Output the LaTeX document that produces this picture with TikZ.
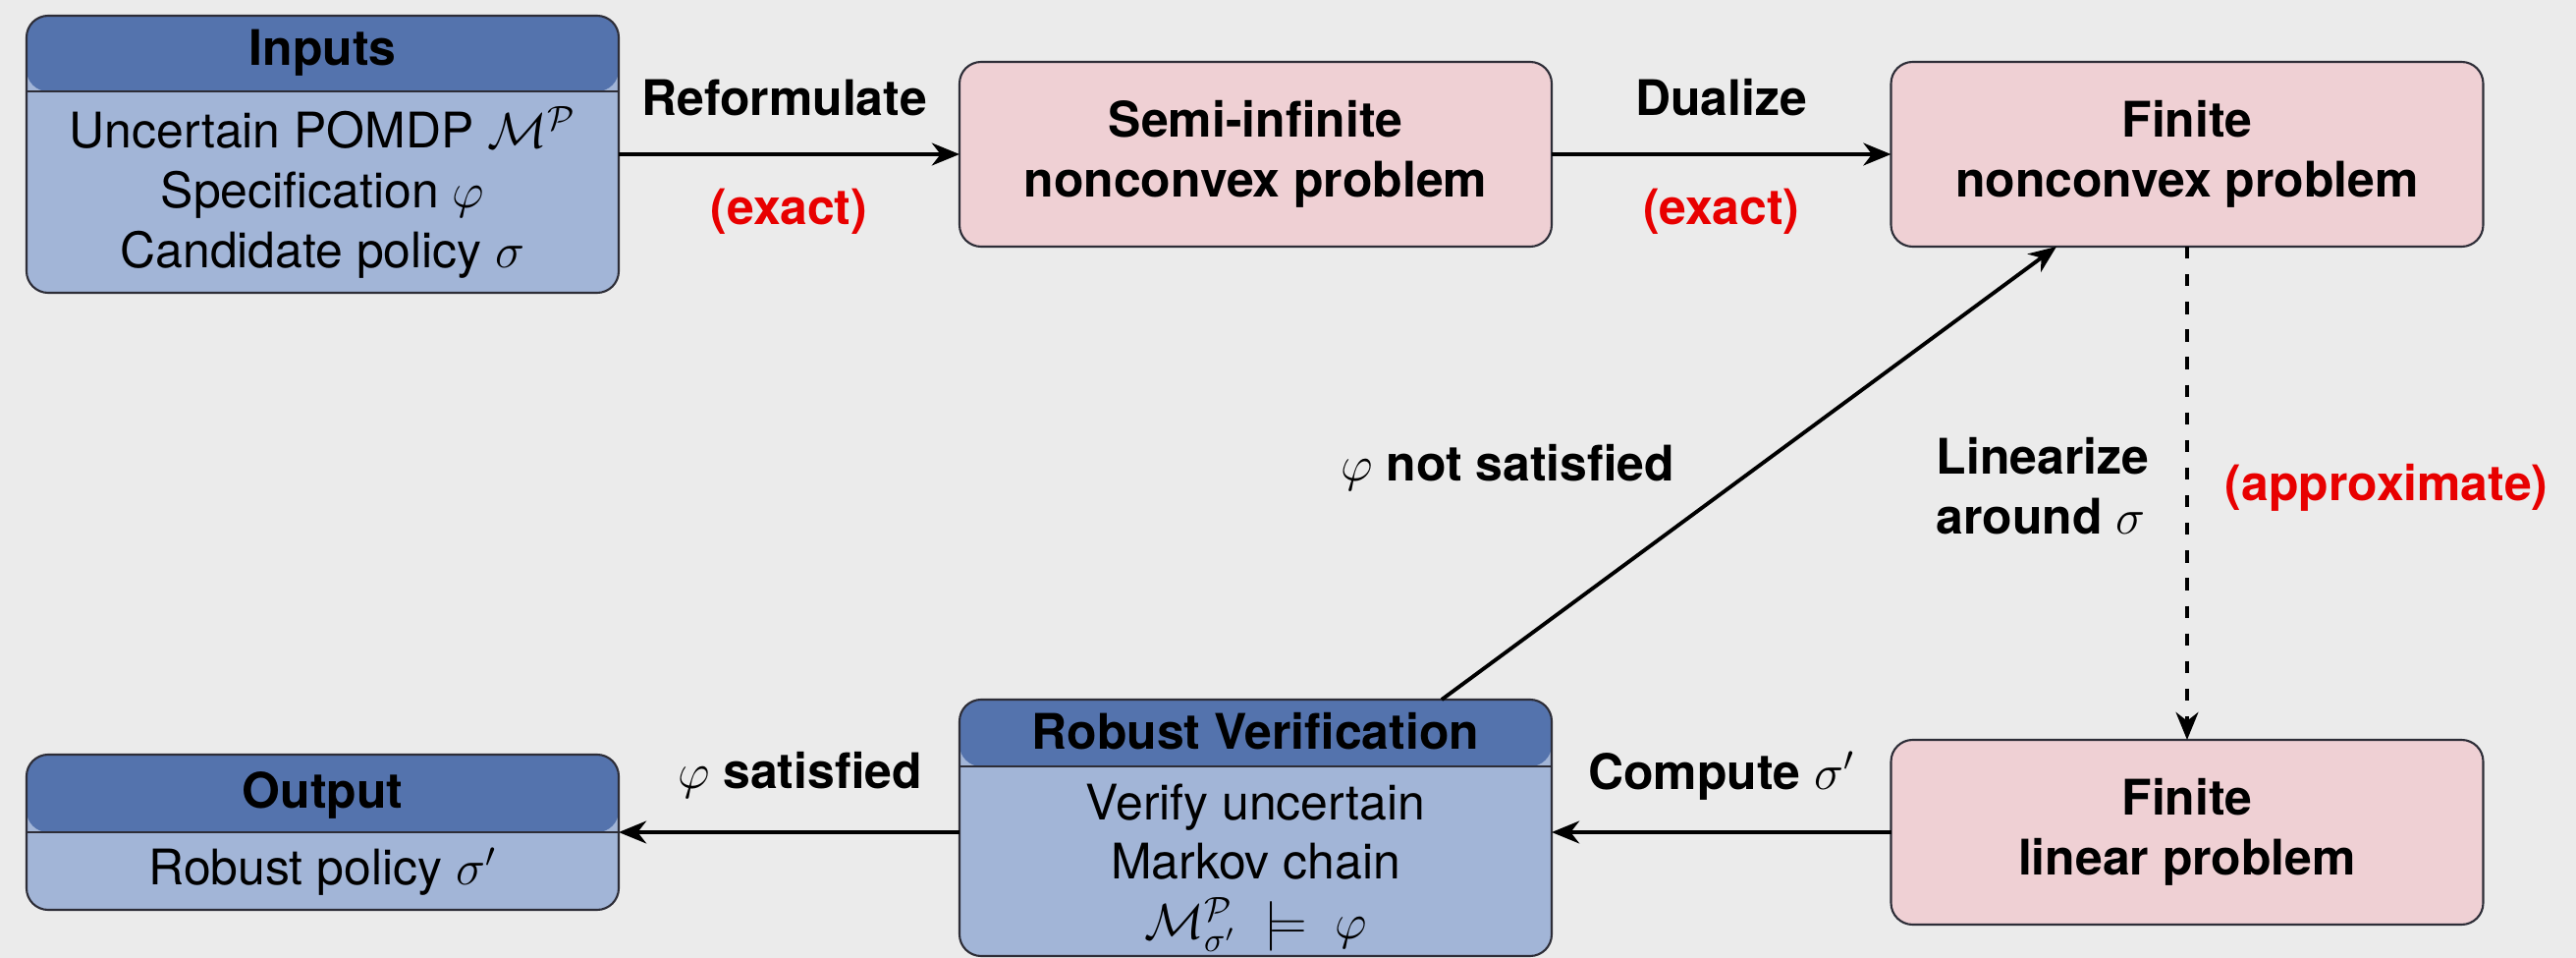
\documentclass[tikz,border=0pt]{standalone}
\usepackage{fontspec}
\setmainfont{TeX Gyre Heros}
\usetikzlibrary{arrows.meta,calc}

\definecolor{bg}{RGB}{235,235,235}
\definecolor{headblue}{RGB}{84,115,173}
\definecolor{bodyblue}{RGB}{162,181,215}
\definecolor{pinkfill}{RGB}{239,208,212}
\definecolor{edgecol}{RGB}{45,45,55}
\definecolor{note}{RGB}{232,0,0}

\begin{document}
\begin{tikzpicture}[x=0.1mm,y=-0.1mm,
  txt/.style={font=\fontsize{14.2}{17.3}\selectfont, inner sep=0pt},
  boldtxt/.style={font=\fontsize{14.2}{17.3}\selectfont\bfseries, inner sep=0pt},
  panel/.style={draw=edgecol, line width=0.6pt, rounded corners=2.2mm, fill=bodyblue,
    minimum width=60.3mm, inner sep=0pt, outer sep=0pt,
    path picture={
      \fill[headblue] (path picture bounding box.north west) rectangle ([yshift=-#1]path picture bounding box.north east);
      \draw[edgecol, line width=0.6pt] ([yshift=-#1]path picture bounding box.north west) -- ([yshift=-#1]path picture bounding box.north east);}},
  problem/.style={draw=edgecol, line width=0.6pt, rounded corners=2.2mm, fill=pinkfill,
    minimum width=60.3mm, minimum height=18.8mm, align=center, outer sep=0pt,
    boldtxt},
  flow/.style={line width=1.1pt, -{Stealth[length=8pt,width=6.5pt,inset=2.5pt]}},
  lbl/.style={boldtxt, anchor=base},
  remark/.style={boldtxt, text=note, anchor=base},
]
% canvas
\fill[bg] (0,0) rectangle (2623,975);
\useasboundingbox (0,0) rectangle (2623,975);

% input panel
\node[panel=7.7mm, minimum height=28.2mm] (inputs) at (328.5,157) {};
\node[boldtxt, anchor=base] (inputs-head) at (328.5,67) {Inputs};
\node[txt, align=center] (inputs-body) at (328.5,196)
  {Uncertain POMDP $\mathcal{M}^{\mathcal{P}}$\\ Specification $\varphi$\\ Candidate policy $\sigma$};

% optimisation problems
\node[problem] (semi) at (1278.5,157) {Semi-infinite\\ nonconvex problem};
\node[problem] (finnc) at (2227,157) {Finite\\ nonconvex problem};
\node[problem] (finlin) at (2227,847) {Finite\\ linear problem};

% verification panel
\node[panel=6.8mm, minimum height=26.1mm] (robust) at (1278.5,842.5) {};
\node[boldtxt, anchor=base] (robust-head) at (1278.5,762) {Robust Verification};
\node[txt, align=center] (robust-body) at (1278.5,883)
  {Verify uncertain\\ Markov chain\\ $\mathcal{M}^{\mathcal{P}}_{\sigma'}\ \models\ \varphi$};

% output panel
\node[panel=7.9mm, minimum height=15.8mm] (output) at (328.5,847) {};
\node[boldtxt, anchor=base] (output-head) at (328.5,822) {Output};
\node[txt] (output-body) at (328.5,887) {Robust policy $\sigma'$};

% connectors
\draw[flow] (inputs.east) --
  node[lbl, xshift=-0.5mm, yshift=3.9mm] (reform) {Reformulate}
  node[remark, yshift=-7.2mm] (exact1) {(exact)} (semi.west);
\draw[flow] (semi.east) --
  node[lbl, yshift=3.9mm] (dual) {Dualize}
  node[remark, yshift=-7.2mm] (exact2) {(exact)} (finnc.west);
\draw[flow, dash pattern=on 3.5pt off 4.5pt] (finnc.south) --
  node[pos=0.486, boldtxt, anchor=east, align=left, xshift=-3.7mm] (lin) {Linearize\\ around $\sigma$}
  node[pos=0.488, boldtxt, text=note, anchor=west, xshift=3.7mm] (approx) {(approximate)}
  (finlin.north);
\draw[flow] (finlin.west) --
  node[lbl, yshift=4.4mm] (comp) {Compute $\sigma'$} (finlin.west -| robust.east);
\draw[flow] (robust.west |- output.east) --
  node[lbl, xshift=1.1mm, yshift=4.5mm] (sat) {$\varphi$ satisfied} (output.east);
\draw[flow] ([xshift=18.95mm]robust.north) --
  node[pos=0.4816, boldtxt, anchor=base east, xshift=-6.25mm] (nsat) {$\varphi$ not satisfied}
  ([xshift=-13.3mm]finnc.south);
\end{tikzpicture}
\end{document}
